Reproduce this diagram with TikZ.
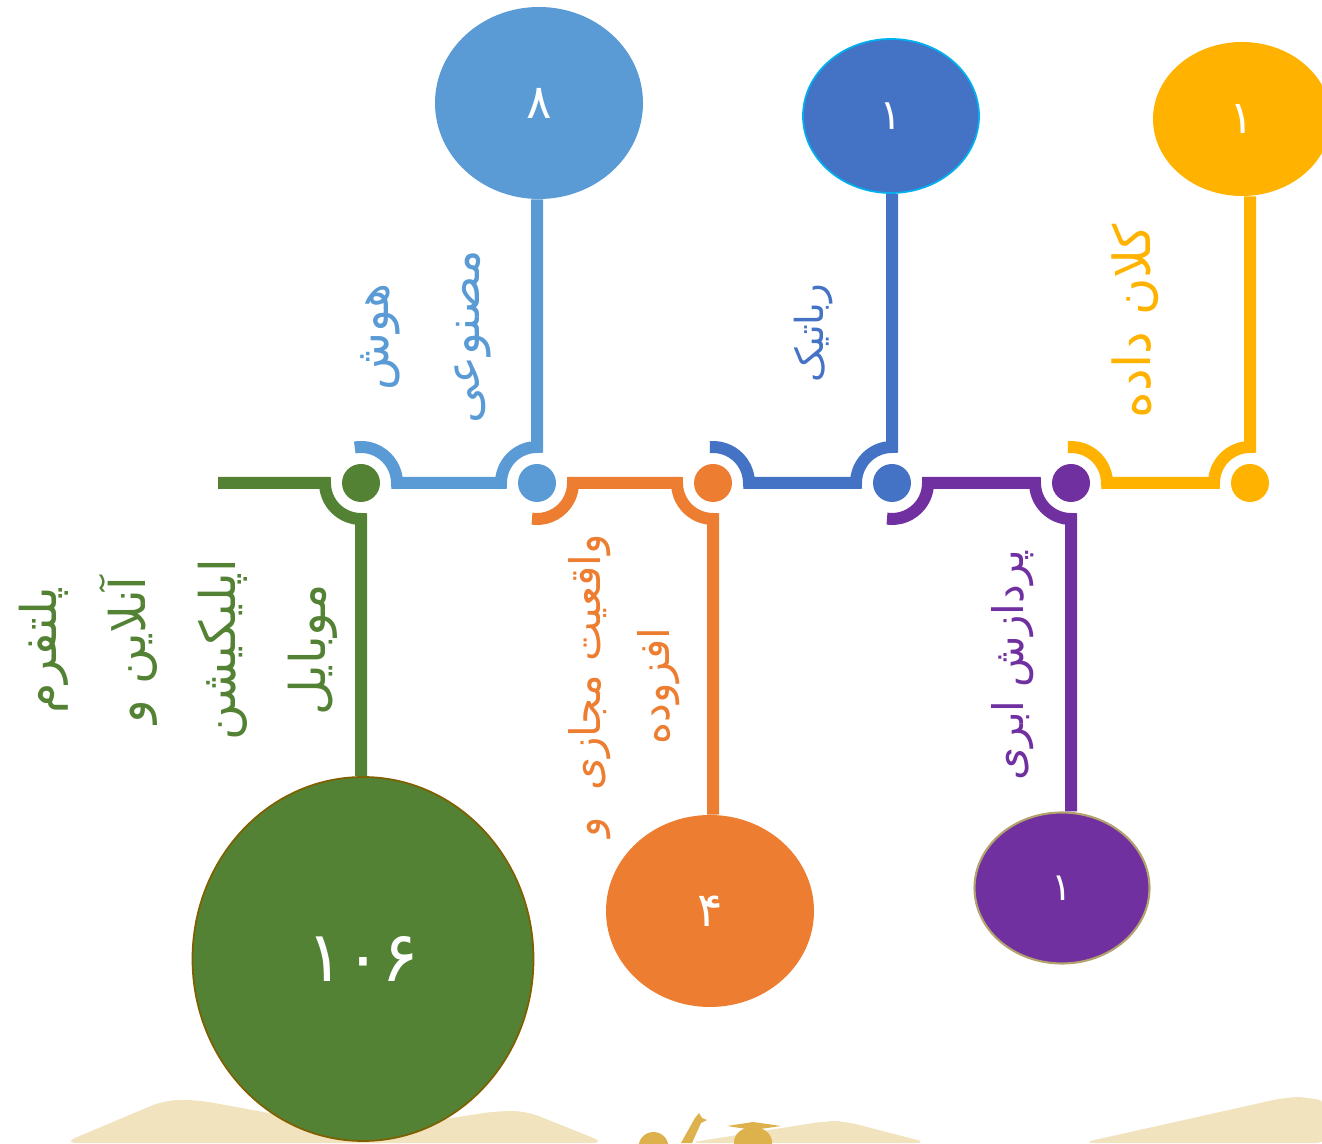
\documentclass[tikz,border=0pt]{standalone}
\usepackage{fontspec}
\usepackage{xcolor}
\usepackage{tikz}
\usetikzlibrary{calc, shapes.geometric}
\newfontfamily\arabicfont[Script=Arabic]{DejaVu Sans}
\TeXXeTstate=1
\definecolor{kgreen}{HTML}{548235}
\definecolor{kblue}{HTML}{5B9BD5}
\definecolor{korange}{HTML}{ED7D31}
\definecolor{kdblue}{HTML}{4472C4}
\definecolor{kpurple}{HTML}{7030A0}
\definecolor{kyellow}{HTML}{FFB300}
\definecolor{ksand}{HTML}{F2E3BF}
\definecolor{kgold}{HTML}{DDB24C}
\definecolor{kbrown}{HTML}{7F6000}
\definecolor{ktan}{HTML}{B3A26E}
\definecolor{kcyan}{HTML}{00B0F0}
\tikzset{
  tline/.style={line width=0.24cm},
  dot/.style={circle, inner sep=0pt, minimum size=0.76cm},
  bubble/.style={ellipse, inner sep=0pt, text=white},
  sidetext/.style={rotate=90, align=center, inner sep=0pt}
}

\begin{document}
\begin{tikzpicture}[x=1cm, y=1cm]
\useasboundingbox (0,0) rectangle (26.44,22.86);
\clip (0,0) rectangle (26.44,22.86);
% hills and graduates at the bottom
\fill[ksand, rounded corners=8pt] (1.26,0) -- (3.3,0.86) -- (3.96,0.86) -- (7.34,0.24)
  -- (9.94,0.64) -- (10.52,0.64) -- (12.12,0) -- cycle;
\fill[ksand, rounded corners=8pt] (13.74,0) -- (16.52,0.44) -- (16.88,0.44) -- (18.58,0) -- cycle;
\fill[ksand, rounded corners=8pt] (21.62,0) -- (25.74,0.92) -- (26.18,0.92) -- (26.6,0.8) -- (26.6,0) -- cycle;
\fill[kgold] (13.07,-0.08) circle (0.3);
\fill[kgold] (13.62,0) -- (13.9,0.5) -- (13.98,0.6) -- (14.04,0.5) -- (14.14,0.46) -- (14.02,0.4) -- (13.84,0) -- cycle;
\fill[kgold] (15.06,0.02) ellipse (0.38 and 0.3);
\fill[kgold] (14.54,0.34) -- (15.06,0.42) -- (15.62,0.34) -- (15.06,0.26) -- cycle;

% bubbles
\node[bubble, fill=kgreen, draw=kbrown, line width=1pt, minimum width=6.82cm, minimum height=7.28cm,
  font=\arabicfont\fontsize{40}{44}\selectfont] (platnum) at (7.26,3.68) {۱۰۶};
\node[bubble, fill=kblue, minimum width=4.16cm, minimum height=3.84cm,
  font=\arabicfont\fontsize{27}{30}\selectfont] (ainum) at (10.78,20.8) {۸};
\node[bubble, fill=korange, minimum width=4.16cm, minimum height=3.84cm,
  font=\arabicfont\fontsize{27}{30}\selectfont] (arnum) at (14.2,4.64) {۴};
\node[bubble, fill=kdblue, draw=kcyan, line width=1pt, minimum width=3.52cm, minimum height=3.08cm,
  font=\arabicfont\fontsize{24}{28}\selectfont] (robnum) at (17.82,20.54) {۱};
\node[bubble, fill=kpurple, draw=ktan, line width=1.2pt, minimum width=3.5cm, minimum height=3.02cm,
  font=\arabicfont\fontsize{22}{26}\selectfont] (cloudnum) at (21.24,5.1) {۱};
\node[bubble, fill=kyellow, minimum width=3.56cm, minimum height=3.08cm,
  font=\arabicfont\fontsize{26}{30}\selectfont] (datanum) at (24.84,20.48) {۱};

% dots on the line
\node[dot, fill=kgreen] (platdot) at (7.22,13.2) {};
\node[dot, fill=kblue] (aidot) at (10.74,13.2) {};
\node[dot, fill=korange] (ardot) at (14.26,13.2) {};
\node[dot, fill=kdblue] (robdot) at (17.84,13.2) {};
\node[dot, fill=kpurple] (clouddot) at (21.42,13.2) {};
\node[dot, fill=kyellow] (datadot) at (25.0,13.2) {};
\coordinate (platstart) at (4.36,13.2);

% line segments
\draw[tline, kgreen] (platstart) -- ($(platdot)+(-0.72,0)$) arc[start angle=180, end angle=270, radius=0.72]
  -- (platnum.north -| platdot);
\draw[tline, kblue] (ainum.south -| aidot) -- ($(aidot)+(0,0.72)$) arc[start angle=90, end angle=180, radius=0.72]
  -- ($(platdot)+(0.72,0)$) arc[start angle=0, end angle=100, radius=0.72];
\draw[tline, korange] ($(aidot)+(262:0.72)$) arc[start angle=262, end angle=360, radius=0.72]
  -- ($(ardot)+(-0.72,0)$) arc[start angle=180, end angle=270, radius=0.72] -- (arnum.north -| ardot);
\draw[tline, kdblue] ($(ardot)+(95:0.72)$) arc[start angle=95, end angle=0, radius=0.72]
  -- ($(robdot)+(-0.72,0)$) arc[start angle=180, end angle=90, radius=0.72] -- (robnum.south -| robdot);
\draw[tline, kpurple] ($(robdot)+(262:0.72)$) arc[start angle=262, end angle=360, radius=0.72]
  -- ($(clouddot)+(-0.72,0)$) arc[start angle=180, end angle=270, radius=0.72] -- (cloudnum.north -| clouddot);
\draw[tline, kyellow] ($(clouddot)+(95:0.72)$) arc[start angle=95, end angle=0, radius=0.72]
  -- ($(datadot)+(-0.72,0)$) arc[start angle=180, end angle=90, radius=0.72] -- (datanum.south -| datadot);

% labels
\node[sidetext, text=kgreen, font=\arabicfont\fontsize{28}{51}\selectfont] (plattext) at (3.56,9.86)
  {\beginR پلتفرم\endR\\\beginR آنلاین و\endR\\\beginR اپلیکیشن\endR\\\beginR موبایل\endR};
\node[sidetext, text=kblue, font=\arabicfont\fontsize{27}{52}\selectfont] (aitext) at (8.52,16.12)
  {\beginR هوش\endR\\\beginR مصنوعی\endR};
\node[sidetext, text=korange, font=\arabicfont\fontsize{24}{39}\selectfont] (artext) at (12.48,9.14)
  {\beginR واقعیت مجازی~~و\endR\\\beginR افزوده\endR};
\node[sidetext, text=kdblue, font=\arabicfont\fontsize{22}{26}\selectfont] (robtext) at (16.28,16.2)
  {\beginR رباتیک\endR};
\node[sidetext, text=kpurple, font=\arabicfont\fontsize{24}{28}\selectfont] (cloudtext) at (20.26,9.56)
  {\beginR پردازش ابری\endR};
\node[sidetext, text=kyellow, font=\arabicfont\fontsize{29}{34}\selectfont] (datatext) at (22.7,16.44)
  {\beginR کلان داده\endR};
\end{tikzpicture}
\end{document}
